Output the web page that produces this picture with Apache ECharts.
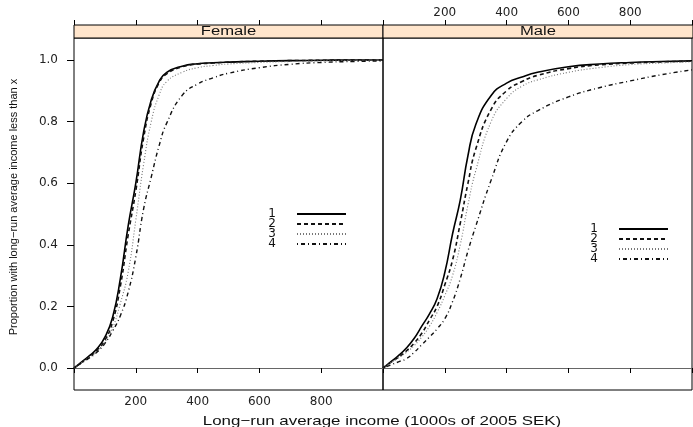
<!DOCTYPE html>
<html>
<head>
<meta charset="utf-8">
<script src="https://cdn.jsdelivr.net/npm/echarts@6/dist/echarts.min.js"></script>
<style>
html, body { margin: 0; padding: 0; background: #fff; }
#chart { width: 693px; height: 427px; }
</style>
</head>
<body>
<div id="chart"></div>
<script>
// income grid (1000s of 2005 SEK) shared by all curves
const income = [0, 25, 50, 75, 100, 125, 150, 175, 200, 225, 250, 275, 300, 350, 400, 450, 500, 600, 700, 800, 900, 1000];

// proportion with income below x
const female1 = [0, 0.02, 0.04, 0.063, 0.10, 0.165, 0.29, 0.46, 0.60, 0.765, 0.87, 0.93, 0.96, 0.98, 0.988, 0.991, 0.993, 0.996, 0.998, 0.999, 1.0, 1.0];
const female2 = [0, 0.018, 0.036, 0.058, 0.09, 0.15, 0.265, 0.43, 0.575, 0.745, 0.86, 0.925, 0.955, 0.978, 0.987, 0.99, 0.993, 0.996, 0.998, 0.999, 1.0, 1.0];
const female3 = [0, 0.018, 0.035, 0.055, 0.085, 0.13, 0.21, 0.31, 0.48, 0.66, 0.80, 0.885, 0.93, 0.96, 0.975, 0.982, 0.987, 0.992, 0.995, 0.997, 0.998, 0.999];
const female4 = [0, 0.017, 0.033, 0.052, 0.08, 0.12, 0.17, 0.245, 0.36, 0.515, 0.62, 0.72, 0.795, 0.885, 0.922, 0.942, 0.957, 0.975, 0.986, 0.992, 0.995, 0.997];

const male1 = [0, 0.02, 0.04, 0.064, 0.095, 0.135, 0.175, 0.225, 0.31, 0.435, 0.545, 0.69, 0.79, 0.885, 0.925, 0.945, 0.96, 0.978, 0.987, 0.992, 0.995, 0.997];
const male2 = [0, 0.018, 0.035, 0.055, 0.08, 0.112, 0.155, 0.2, 0.27, 0.35, 0.47, 0.6, 0.71, 0.84, 0.9, 0.93, 0.95, 0.972, 0.984, 0.99, 0.994, 0.996];
const male3 = [0, 0.017, 0.033, 0.05, 0.072, 0.1, 0.135, 0.18, 0.235, 0.3, 0.4, 0.53, 0.64, 0.8, 0.875, 0.915, 0.935, 0.96, 0.975, 0.985, 0.99, 0.994];
const male4 = [0, 0.01, 0.02, 0.03, 0.05, 0.075, 0.1, 0.127, 0.16, 0.215, 0.29, 0.38, 0.46, 0.61, 0.735, 0.8, 0.835, 0.88, 0.91, 0.932, 0.952, 0.968];

const groups = ['1', '2', '3', '4'];
const panels = ['Female', 'Male'];
const xTickLabels = [200, 400, 600, 800];
const yTickValues = [0, 0.2, 0.4, 0.6, 0.8, 1.0];

const panelData = [
    [female1, female2, female3, female4],
    [male1, male2, male3, male4]
];

const lineStyles = [
    {color: '#000', width: 1.6, type: 'solid'},
    {color: '#111', width: 1.6, type: [4, 3]},
    {color: '#777', width: 1.1, type: [1, 2]},
    {color: '#111', width: 1.4, type: [1, 3, 4, 3]}
];

const tickFont = {fontFamily: 'DejaVu Sans', fontSize: 12, color: '#222'};

const chart = echarts.init(document.getElementById('chart'));

function xAxis(gridIndex, position, showLabels) {
    return {
        type: 'value',
        gridIndex: gridIndex,
        position: position,
        offset: position === 'top' ? 13 : 0,
        min: 0,
        max: 1000,
        interval: 200,
        axisLine: {show: position === 'bottom', lineStyle: {color: '#666', width: 1}},
        axisTick: {show: true, inside: false, length: 5, lineStyle: {color: '#000'}},
        axisLabel: {
            show: showLabels,
            customValues: xTickLabels,
            margin: 6,
            ...tickFont
        },
        splitLine: {show: false}
    };
}

function yAxis(gridIndex, showLabels) {
    return {
        type: 'value',
        gridIndex: gridIndex,
        min: -0.0714,
        max: 1.0714,
        axisLine: {show: false},
        axisTick: {show: showLabels, customValues: yTickValues, length: 7, lineStyle: {color: '#000'}},
        axisLabel: {
            show: showLabels,
            customValues: yTickValues,
            margin: 16,
            formatter: v => v.toFixed(1),
            ...tickFont
        },
        splitLine: {show: false}
    };
}

const series = [];
panelData.forEach((curves, p) => {
    curves.forEach((vals, g) => {
        series.push({
            type: 'line',
            name: groups[g],
            xAxisIndex: p * 2,
            yAxisIndex: p,
            data: income.map((x, i) => [x, vals[i]]),
            symbol: 'none',
            showSymbol: false,
            smooth: 0.5,
            lineStyle: lineStyles[g],
            itemStyle: {color: lineStyles[g].color},
            silent: true
        });
    });
});

function legend(right, top) {
    return {
        data: groups,
        orient: 'vertical',
        right: right,
        top: top,
        align: 'right',
        itemWidth: 49,
        itemHeight: 10,
        itemGap: -2,
        padding: 0,
        selectedMode: false,
        itemStyle: {opacity: 0},
        textStyle: {fontFamily: 'DejaVu Sans', fontSize: 12, lineHeight: 10, color: '#111', padding: [0, 16, 0, 0]}
    };
}

const stripFill = '#ffe5cc';
const graphics = [
    {type: 'rect', shape: {x: 74, y: 25, width: 309, height: 13}, style: {fill: stripFill, stroke: '#000', lineWidth: 1}},
    {type: 'rect', shape: {x: 383, y: 25, width: 310, height: 13}, style: {fill: stripFill, stroke: '#000', lineWidth: 1}},
    {type: 'text', x: 228.5, y: 32, scaleX: 1.33, style: {text: panels[0], align: 'center', verticalAlign: 'middle', fontFamily: 'Liberation Sans', fontSize: 12.5, fill: '#111'}},
    {type: 'text', x: 538, y: 32, scaleX: 1.33, style: {text: panels[1], align: 'center', verticalAlign: 'middle', fontFamily: 'Liberation Sans', fontSize: 12.5, fill: '#111'}},
    {type: 'text', x: 382, y: 421, scaleX: 1.3, style: {text: 'Long−run average income (1000s of 2005 SEK)', align: 'center', verticalAlign: 'middle', fontFamily: 'Liberation Sans', fontSize: 13, fill: '#111'}},
    {type: 'text', x: 14, y: 207, rotation: Math.PI / 2, style: {text: 'Proportion with long−run average income less than x', align: 'center', verticalAlign: 'middle', fontFamily: 'Liberation Sans', fontSize: 11, fill: '#111'}}
];

const option = {
    animation: false,
    backgroundColor: '#fff',
    grid: [
        {left: 74, top: 38, width: 309, height: 352, show: true, borderColor: '#000', borderWidth: 1, backgroundColor: 'transparent'},
        {left: 383, top: 38, width: 309, height: 352, show: true, borderColor: '#000', borderWidth: 1, backgroundColor: 'transparent'}
    ],
    xAxis: [
        xAxis(0, 'bottom', true),
        xAxis(0, 'top', false),
        xAxis(1, 'bottom', false),
        xAxis(1, 'top', true)
    ],
    yAxis: [yAxis(0, true), yAxis(1, false)],
    legend: [legend(346, 208), legend(24, 223)],
    graphic: graphics,
    series: series
};

chart.setOption(option);
window.addEventListener('resize', () => chart.resize());
</script>
</body>
</html>
